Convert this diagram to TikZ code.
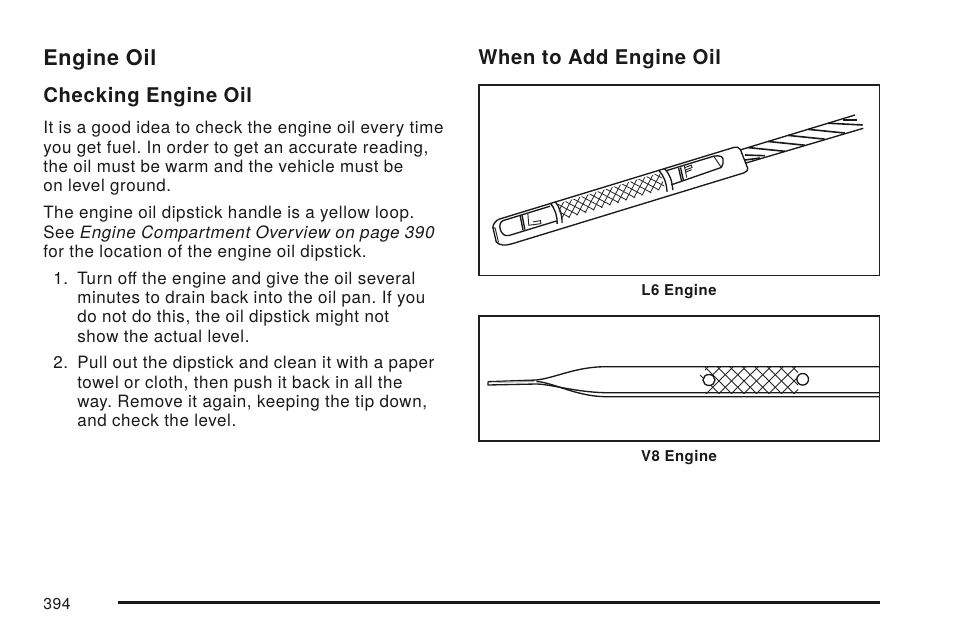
\documentclass[tikz,border=0pt]{standalone}
\usepackage{fontspec}
\setmainfont{TeX Gyre Heros}[LetterSpace=3.6]
\usepackage{tikz}
\usetikzlibrary{positioning}

\begin{document}
\frenchspacing
\begin{tikzpicture}[x=0.75pt, y=-0.75pt,
    every node/.style={text=black!90},
    textline/.style={anchor=base west, inner sep=0pt, font=\fontsize{12.72}{14}\selectfont},
    caption/.style={anchor=base, inner sep=0pt, font=\fontsize{11.2}{13}\selectfont\bfseries},
    head/.style={anchor=base west, inner sep=0pt, font=\fontsize{15.2}{18}\selectfont\bfseries},
    title/.style={anchor=base west, inner sep=0pt, font=\fontsize{16.2}{20}\selectfont\bfseries},
    boxframe/.style={draw=black!88, line width=1.2pt},
    stick/.style={line width=1pt, black!90},
    thin stick/.style={line width=0.7pt, black!85},
    strand/.style={line width=1.2pt, black!90},
    hatch/.style={line width=0.6pt, black!85}]
    \useasboundingbox (0,0) rectangle (954,636);
    \fill[white] (0,0) rectangle (954,636);

    % Left column
    \node[title] (engineoil) at (43,65.5) {Engine Oil};
    \node[head] (checking) at (43,102.5) {Checking Engine Oil};
    \node[textline] (a1) at (43,133.7) {It is a good idea to check the engine oil every time};
    \node[textline] (a2) at (43,153.2) {you get fuel. In order to get an accurate reading,};
    \node[textline] (a3) at (43,172.5) {the oil must be warm and the vehicle must be};
    \node[textline] (a4) at (43,191.7) {on level ground.};
    \node[textline] (b1) at (43,218.5) {The engine oil dipstick handle is a yellow loop.};
    \node[textline] (b2) at (43,238) {See \textit{Engine Compartment Overview on page 390}};
    \node[textline] (b3) at (43,257.3) {for the location of the engine oil dipstick.};
    \node[textline] (c0) at (53,284) {1.};
    \node[textline] (c1) at (77,284) {Turn off the engine and give the oil several};
    \node[textline] (c2) at (77,303.3) {minutes to drain back into the oil pan. If you};
    \node[textline] (c3) at (77,322.7) {do not do this, the oil dipstick might not};
    \node[textline] (c4) at (77,342) {show the actual level.};
    \node[textline] (d0) at (53,368.5) {2.};
    \node[textline] (d1) at (77,368.5) {Pull out the dipstick and clean it with a paper};
    \node[textline] (d2) at (77,388) {towel or cloth, then push it back in all the};
    \node[textline] (d3) at (77,407.3) {way. Remove it again, keeping the tip down,};
    \node[textline] (d4) at (77,426.7) {and check the level.};

    % Right column
    \node[head] (whento) at (478,64.5) {When to Add Engine Oil};
    \draw[boxframe] (479,85) rectangle (879.3,275.3);
    \draw[boxframe] (479,316.2) rectangle (879.3,441);
    \node[caption] (l6) at (679,295.5) {L6 Engine};
    \node[caption] (v8) at (679,461.5) {V8 Engine};

    % L6 dipstick, drawn along its own axis
    \begin{scope}[shift={(499.7,219)}, rotate=17]
        \draw[stick] (0,0) -- (243,0) .. controls (248,0) and (250,1) .. (250.5,4)
            -- (252,24) .. controls (252,26) and (250,27) .. (247,27.3) -- (4,27.3)
            .. controls (-3,27.3) and (-8,25) .. (-10,21) -- (-9,6) .. controls (-8,3) and (-4,0) .. (0,0);
        \draw[thin stick] (-9,6) -- (-7,7.5) -- (-8,22);
        % L window
        \draw[stick] (52,2.5) -- (3,2.5) .. controls (-4,2.5) and (-5,18) .. (4,18.5) -- (54,18.5);
        \draw[stick] (20.5,3) -- (19,17.5) (22.5,3) -- (21,17.5);
        \draw[thin stick] (28.5,3) -- (26,14.5) -- (38,16.5) -- (38.5,13.5) -- (31,12.5);
        % Bands
        \draw[stick] (53,-0.5) .. controls (56,7) and (56,14) .. (53.5,21.5)
            (58,-0.5) .. controls (61,7) and (61,14) .. (58.5,22);
        \draw[stick] (166,-0.5) .. controls (170,7) and (170,14) .. (168,23)
            (172,-0.5) .. controls (176,7) and (176,14) .. (174,23);
        % Crosshatch
        \begin{scope}
            \clip (59,2.5) -- (167,2.5) -- (167,19) -- (59,19) -- cycle;
            \foreach \u in {40,48.5,...,175} {
                \draw[hatch] (\u,0) -- ++(20,20);
                \draw[hatch] (\u,20) -- ++(20,-20);
            }
        \end{scope}
        % F window
        \draw[stick] (174,2.5) -- (223,2.5) .. controls (229,3) and (232,6) .. (231,8)
            .. controls (231,11) and (229,14) .. (227,15.5) -- (174,17.5);
        \draw[thin stick] (223,2.5) -- (227,15.5);
        \draw[stick] (186,3.5) -- (185,17) (188,3.5) -- (187,17);
        \draw[thin stick] (192,3.5) -- (191,15) (191.5,5) -- (199,4.5) -- (199,7) -- (192,7.5) (191.5,9.5) -- (198,9);
    \end{scope}

    % Cable
    \draw[stick] (741,149.7) -- (855,115);
    \draw[stick] (745,163.3) -- (863.3,128.3);
    \foreach \t in {8,28,48,68} {
        \draw[strand] (740+\t,150-0.304*\t) -- ++(36.7,3.7);
    }
    \draw[strand] (745,155) -- (765,155.7);
    \draw[strand] (745,160) -- (760,158);
    \draw[strand] (828,123.2) -- (862.7,125);
    \draw[strand] (843,120) -- (857.3,120);

    % V8 dipstick
    \draw[stick] (488,381.7) -- (536.3,380) .. controls (555,378) and (575,367) .. (604.7,366.7) -- (879,366.7);
    \draw[stick] (488,381.7) -- (488,385) -- (536,384) .. controls (550,384) and (575,392) .. (604.7,392.7) -- (879,392.7);
    \draw[stick] (536.3,381.5) .. controls (552,382) and (575,396) .. (604.7,396.7) -- (879,396.7);
    \fill[black!35] (492,382) -- (534,380.8) -- (534,382) -- (500,382.8) -- cycle;
    \begin{scope}
        \clip (705,367.3) -- (798,367.3) -- (798,393) -- (705,393) -- cycle;
        \foreach \u in {680,692.5,...,800} {
            \draw[hatch] (\u,367) -- ++(28,28);
            \draw[hatch] (\u+28,367) -- ++(-28,28);
        }
    \end{scope}
    \draw[hatch] (700,375) -- (708,383);
    \draw[stick, fill=white] (709,380) circle[x radius=6, y radius=5.5];
    \draw[stick, fill=white] (802.7,379.3) circle[radius=5.8];

    % Footer
    \node[textline, font=\fontsize{11.8}{14}\selectfont] (pageno) at (43,609.5) {394};
    \draw[line width=2.3pt, black!90] (118,602.5) -- (880,602.5);
\end{tikzpicture}
\end{document}
